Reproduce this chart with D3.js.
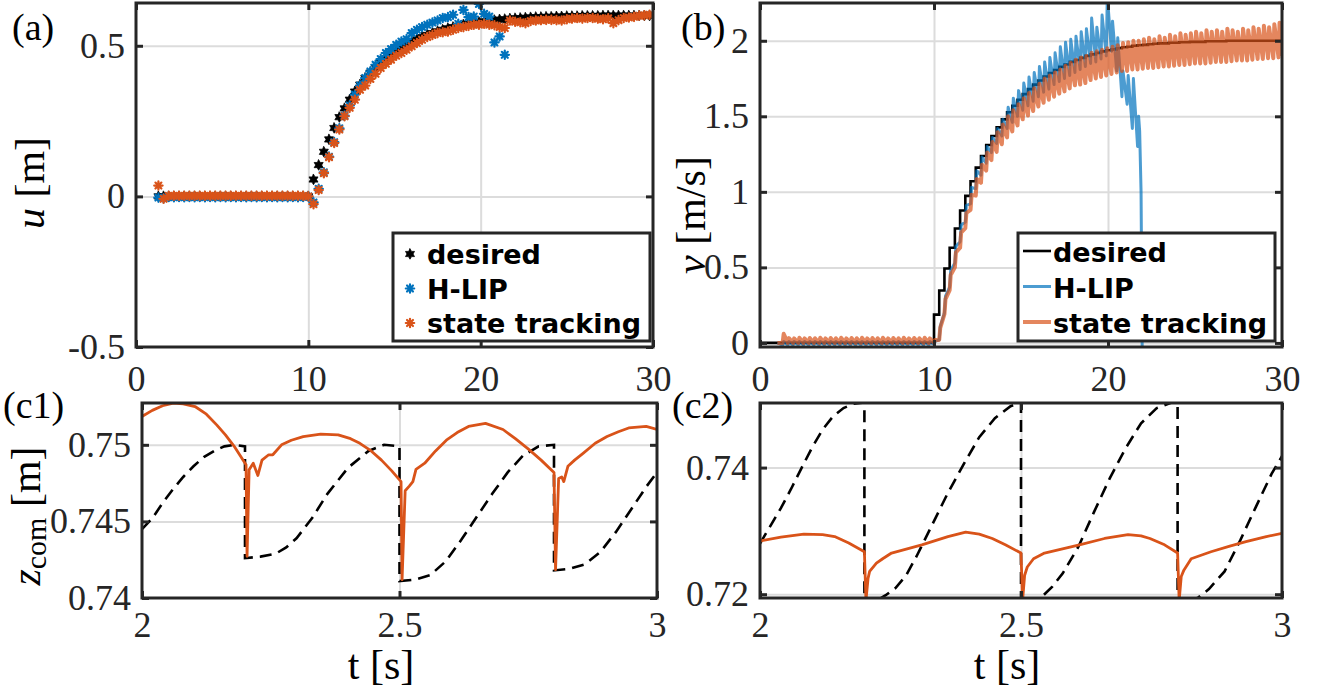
<!DOCTYPE html>
<html><head><meta charset="utf-8">
<script src="https://cdn.jsdelivr.net/npm/d3@7"></script>
<style>
body{margin:0;background:#fff;}
svg{display:block;}
</style></head><body>
<svg id="fig" width="1344" height="690"></svg>
<script>
// ---------------- DATA ----------------
// step (touch-down) times: every 0.3 s starting at 1.3 s
const stepStart = 1.3, stepDt = 0.3;

// (a) step length u [m] at each step
const uDesired = [
0,0,0,0,0,0,0,0,0,0, 0,0,0,0,0,0,0,0,0,0, 0,0,0,0,0,0,0,0,0,0,
0.056,0.104,0.148,0.189,0.227,0.263,0.292,0.321,0.348,0.371,
0.393,0.411,0.428,0.444,0.458,0.471,0.483,0.494,0.504,0.513,
0.521,0.529,0.536,0.542,0.548,0.553,0.558,0.562,0.566,0.570,
0.573,0.576,0.579,0.581,0.583,0.585,0.587,0.588,0.590,0.591,
0.592,0.593,0.594,0.595,0.595,0.596,0.596,0.597,0.597,0.598,
0.598,0.598,0.599,0.599,0.599,0.599,0.600,0.600,0.600,0.600,
0.600,0.600,0.600,0.600,0.600,0.600];
const uHLIP = [
-0.004,-0.006,-0.002,-0.003,-0.002,-0.003,-0.002,-0.003,-0.002,-0.003,
-0.002,-0.003,-0.002,-0.003,-0.002,-0.003,-0.002,-0.003,-0.002,-0.003,
-0.002,-0.003,-0.002,-0.003,-0.002,-0.003,-0.002,-0.003,-0.002,0.000,
-0.020,0.025,0.080,0.132,0.180,0.226,0.268,0.302,0.338,0.368,
0.393,0.415,0.437,0.456,0.476,0.489,0.503,0.514,0.522,0.542,
0.553,0.562,0.570,0.577,0.584,0.592,0.595,0.603,0.573,0.619,
0.595,0.597,0.639,0.606,0.597,0.511,0.531,0.470];
const uTrack = [
0.036,-0.008,0.002,0.002,0.002,0.002,0.002,0.002,0.002,0.002,
0.002,0.002,0.002,0.002,0.002,0.002,0.002,0.002,0.002,0.002,
0.002,0.002,0.002,0.002,0.002,0.002,0.002,0.002,0.002,0.000,
-0.026,0.021,0.077,0.130,0.177,0.222,0.266,0.294,0.321,0.354,
0.368,0.390,0.407,0.426,0.440,0.454,0.467,0.476,0.487,0.498,
0.509,0.520,0.529,0.536,0.542,0.545,0.547,0.553,0.559,0.562,
0.566,0.570,0.570,0.573,0.570,0.568,0.562,0.559,0.584,0.580,
0.578,0.575,0.582,0.584,0.585,0.586,0.586,0.585,0.584,0.588,
0.590,0.592,0.590,0.592,0.592,0.590,0.588,0.591,0.575,0.585,
0.592,0.594,0.596,0.600,0.601,0.603];

// (b) desired velocity staircase, one level per step from t = 10.0 s
const vDesiredStart = 10.0;
const vDesired = [
0.187,0.347,0.493,0.630,0.757,0.877,0.973,1.070,1.160,1.237,
1.310,1.370,1.427,1.480,1.527,1.570,1.610,1.647,1.680,1.710,
1.737,1.763,1.787,1.807,1.827,1.843,1.860,1.873,1.887,1.900,
1.910,1.920,1.930,1.937,1.943,1.950,1.957,1.960,1.967,1.970,
1.973,1.977,1.980,1.983,1.983,1.987,1.987,1.990,1.990,1.993,
1.993,1.993,1.997,1.997,1.997,1.997,2.000,2.000,2.000,2.000,
2.000,2.000,2.000,2.000,2.000,2.000,2.000];
// (b) measured velocity: trough (lo) and peak (hi) in each step
const vStartT = 1.0;
const vTrackLo = [
0.000,0.000,0.000,0.000,0.000,0.000,0.000,0.000,0.000,0.000,
0.000,0.000,0.000,0.000,0.000,0.000,0.000,0.000,0.000,0.000,
0.000,0.000,0.000,0.000,0.000,0.000,0.000,0.000,0.000,0.000,
0.020,0.190,0.350,0.500,0.630,0.760,0.880,0.975,1.060,1.140,
1.210,1.265,1.315,1.360,1.400,1.440,1.480,1.505,1.535,1.565,
1.590,1.610,1.630,1.650,1.665,1.685,1.705,1.710,1.720,1.740,
1.750,1.760,1.770,1.780,1.790,1.800,1.800,1.810,1.810,1.815,
1.820,1.820,1.825,1.830,1.830,1.835,1.840,1.840,1.845,1.850,
1.850,1.850,1.855,1.860,1.860,1.860,1.865,1.870,1.870,1.870,
1.875,1.880,1.880,1.885,1.885,1.890];
const vTrackHi = [
0.060,0.032,0.030,0.034,0.030,0.033,0.031,0.034,0.030,0.033,
0.031,0.034,0.030,0.033,0.031,0.034,0.030,0.033,0.031,0.034,
0.030,0.033,0.031,0.034,0.030,0.033,0.031,0.034,0.030,0.020,
0.100,0.290,0.450,0.600,0.730,0.860,0.980,1.085,1.180,1.260,
1.330,1.395,1.445,1.500,1.540,1.580,1.620,1.655,1.685,1.715,
1.750,1.770,1.790,1.810,1.835,1.855,1.875,1.890,1.900,1.920,
1.930,1.940,1.950,1.960,1.970,1.985,1.990,2.000,2.000,2.010,
2.020,2.010,2.030,2.020,2.040,2.030,2.050,2.040,2.050,2.060,
2.050,2.070,2.060,2.070,2.060,2.080,2.070,2.060,2.080,2.070,
2.090,2.080,2.100,2.090,2.110,2.120];
const vTrackEnd = 1.90;
const vHLIPLo = [
-0.015,-0.015,-0.015,-0.015,-0.015,-0.015,-0.015,-0.015,-0.015,-0.015,
-0.015,-0.015,-0.015,-0.015,-0.015,-0.015,-0.015,-0.015,-0.015,-0.015,
-0.015,-0.015,-0.015,-0.015,-0.015,-0.015,-0.015,-0.015,-0.015,-0.010,
0.020,0.200,0.370,0.530,0.670,0.800,0.920,1.020,1.110,1.190,
1.260,1.320,1.370,1.420,1.460,1.500,1.540,1.570,1.600,1.630,
1.660,1.680,1.710,1.730,1.750,1.770,1.790,1.810,1.830,1.850,
1.860,1.880,1.900,1.930,1.800,1.630,1.580,1.420,1.300];
const vHLIPHi = [
0.010,0.010,0.010,0.010,0.010,0.010,0.010,0.010,0.010,0.010,
0.010,0.010,0.010,0.010,0.010,0.010,0.010,0.010,0.010,0.010,
0.010,0.010,0.010,0.010,0.010,0.010,0.010,0.010,0.010,0.010,
0.110,0.310,0.480,0.640,0.780,0.910,1.030,1.140,1.230,1.300,
1.360,1.420,1.480,1.560,1.620,1.670,1.720,1.760,1.790,1.830,
1.860,1.890,1.920,1.960,1.990,2.010,2.030,2.060,2.080,2.150,
2.090,2.170,2.300,2.130,2.020,1.800,1.770,1.750,1.500];
const vHLIPTailT = [21.82, 21.90, 22.00];
const vHLIPTailV = [1.40, 1.00, -0.60];

// (c1) CoM height [m]
const c1TrackT = [2.000,2.020,2.040,2.061,2.080,2.103,2.125,2.145,2.162,2.179,2.202,2.204,2.208,2.216,2.225,2.233,2.246,2.254,2.271,2.290,2.313,2.347,2.381,2.405,2.423,2.445,2.465,2.485,2.503,2.505,2.511,2.519,2.526,2.532,2.549,2.570,2.591,2.612,2.634,2.667,2.701,2.725,2.751,2.775,2.800,2.803,2.809,2.815,2.819,2.827,2.840,2.857,2.880,2.903,2.925,2.945,2.979,3.000];
const c1TrackZ = [0.75185,0.75225,0.75255,0.75272,0.75268,0.75250,0.75200,0.75130,0.75065,0.74990,0.74870,0.74272,0.74837,0.74880,0.74800,0.74900,0.74935,0.74935,0.75000,0.75030,0.75054,0.75070,0.75065,0.75040,0.75010,0.74960,0.74900,0.74830,0.74760,0.74120,0.74700,0.74730,0.74760,0.74840,0.74880,0.74960,0.75030,0.75080,0.75120,0.75140,0.75100,0.75040,0.74970,0.74900,0.74820,0.74185,0.74780,0.74790,0.74760,0.74860,0.74900,0.74946,0.75010,0.75054,0.75085,0.75110,0.75120,0.75100];
const c1DesT = [2.00,2.02,2.04,2.06,2.08,2.10,2.12,2.14,2.16,2.18,2.20,2.20,2.23,2.26,2.28,2.30,2.33,2.36,2.40,2.44,2.47,2.50,2.50,2.53,2.56,2.59,2.62,2.65,2.68,2.71,2.74,2.77,2.80,2.80,2.83,2.86,2.89,2.92,2.95,2.98,3.00];
const c1DesZ = [0.7445,0.7452,0.7462,0.7471,0.7479,0.7486,0.7492,0.7496,0.7499,0.7500,0.7499,0.7426,0.7427,0.7429,0.7433,0.7439,0.7452,0.7468,0.7485,0.7496,0.7500,0.7499,0.7411,0.7412,0.7415,0.7424,0.7438,0.7453,0.7468,0.7482,0.7493,0.7499,0.7500,0.7418,0.7419,0.7422,0.7430,0.7443,0.7458,0.7473,0.7482];
// (c2) CoM height [m]
const c2TrackT = [2.000,2.040,2.084,2.120,2.143,2.170,2.200,2.203,2.207,2.210,2.223,2.235,2.252,2.310,2.360,2.394,2.420,2.445,2.470,2.500,2.503,2.507,2.512,2.524,2.545,2.612,2.660,2.705,2.730,2.747,2.775,2.800,2.803,2.807,2.812,2.826,2.864,2.900,2.931,2.970,3.000];
const c2TrackZ = [0.7284,0.7290,0.7295,0.7294,0.7291,0.7281,0.7267,0.7190,0.7225,0.7236,0.7249,0.7256,0.7265,0.7278,0.7291,0.7298,0.7295,0.7288,0.7278,0.7265,0.7190,0.7230,0.7243,0.7256,0.7265,0.7278,0.7288,0.7294,0.7292,0.7288,0.7278,0.7265,0.7190,0.7228,0.7238,0.7256,0.7267,0.7276,0.7283,0.7291,0.7296];
const c2DesT = [2.00,2.02,2.04,2.06,2.08,2.10,2.12,2.14,2.16,2.18,2.20,2.20,2.22,2.24,2.26,2.28,2.30,2.33,2.36,2.39,2.42,2.45,2.48,2.50,2.50,2.52,2.54,2.56,2.58,2.61,2.64,2.67,2.70,2.73,2.76,2.79,2.80,2.80,2.82,2.84,2.86,2.89,2.92,2.95,2.98,3.00];
const c2DesZ = [0.7280,0.7308,0.7336,0.7367,0.7400,0.7432,0.7460,0.7481,0.7494,0.7501,0.7503,0.7185,0.7188,0.7198,0.7210,0.7230,0.7260,0.7310,0.7360,0.7405,0.7448,0.7478,0.7497,0.7503,0.7185,0.7187,0.7196,0.7212,0.7233,0.7275,0.7330,0.7383,0.7430,0.7470,0.7494,0.7503,0.7504,0.7185,0.7187,0.7195,0.7208,0.7236,0.7285,0.7338,0.7390,0.7418];

// tick values
const aXTicks = [0,10,20,30], aYTicks = [-0.5,0,0.5];
const bYTicks = [0,0.5,1,1.5,2];
const cXTicks = [2,2.5,3];
const c1YTicks = [0.74,0.745,0.75], c2YTicks = [0.72,0.74];
const legendNames = ['desired','H-LIP','state tracking'];

// ---------------- DRAWING ----------------
const svg = d3.select('#fig');
const INK = '#262626', GRID = '#dcdcdc';
const SERIF = '"Liberation Serif","Times New Roman",serif';
const C_BLUE = '#0072BD', C_ORANGE = '#D95319';
const defs = svg.append('defs');

function makeAxes(cfg){
  const x = d3.scaleLinear().domain(cfg.xDomain).range([cfg.left, cfg.right]);
  const y = d3.scaleLinear().domain(cfg.yDomain).range([cfg.bottom, cfg.top]);
  const W = cfg.right - cfg.left, H = cfg.bottom - cfg.top;
  const root = svg.append('g');
  const gx = root.append('g').attr('transform', `translate(0,${cfg.bottom})`)
    .call(d3.axisBottom(x).tickValues(cfg.xGrid).tickSize(-H).tickFormat(''));
  const gy = root.append('g').attr('transform', `translate(${cfg.left},0)`)
    .call(d3.axisLeft(y).tickValues(cfg.yGrid).tickSize(-W).tickFormat(''));
  [gx, gy].forEach(g => { g.select('.domain').remove(); g.selectAll('line').attr('stroke', GRID).attr('stroke-width', 2); });
  const clipId = 'clip-' + cfg.name;
  defs.append('clipPath').attr('id', clipId).append('rect')
    .attr('x', cfg.left).attr('y', cfg.top).attr('width', W).attr('height', H);
  const plot = root.append('g').attr('clip-path', `url(#${clipId})`);
  const frame = root.append('g');
  return {x, y, plot, frame, cfg};
}

function styleAxis(g){
  g.select('.domain').remove();
  g.selectAll('line').attr('stroke', INK).attr('stroke-width', 3);
  g.selectAll('text').attr('font-family', SERIF).attr('font-size', 36).attr('fill', INK);
}

function finishAxes(ax){
  const {x, y, cfg, frame} = ax;
  const fmt = d => String(d);
  styleAxis(frame.append('g').attr('transform', `translate(0,${cfg.bottom})`)
    .call(d3.axisBottom(x).tickValues(cfg.xTicks).tickSizeInner(-7).tickSizeOuter(0).tickPadding(cfg.xPad).tickFormat(fmt)));
  styleAxis(frame.append('g').attr('transform', `translate(0,${cfg.top})`)
    .call(d3.axisTop(x).tickValues(cfg.xTicks).tickSizeInner(-7).tickSizeOuter(0).tickFormat('')));
  styleAxis(frame.append('g').attr('transform', `translate(${cfg.left},0)`)
    .call(d3.axisLeft(y).tickValues(cfg.yTicks).tickSizeInner(-7).tickSizeOuter(0).tickPadding(11).tickFormat(fmt)));
  styleAxis(frame.append('g').attr('transform', `translate(${cfg.right},0)`)
    .call(d3.axisRight(y).tickValues(cfg.yTicks).tickSizeInner(-7).tickSizeOuter(0).tickFormat('')));
  frame.append('rect').attr('x', cfg.left).attr('y', cfg.top)
    .attr('width', cfg.right - cfg.left).attr('height', cfg.bottom - cfg.top)
    .attr('fill', 'none').attr('stroke', INK).attr('stroke-width', 3);
}

function panelLabel(txt, px, py){
  svg.append('text').attr('x', px).attr('y', py).attr('font-family', SERIF)
    .attr('font-size', 38).attr('fill', '#000').text(txt);
}
function yLabel(px, py, parts){
  const t = svg.append('text').attr('transform', `translate(${px},${py}) rotate(-90)`)
    .attr('text-anchor', 'middle').attr('font-family', SERIF).attr('font-size', 42).attr('fill', '#000');
  parts.forEach(p => {
    const s = t.append('tspan').text(p.t);
    if (p.it) s.attr('font-style', 'italic');
    if (p.size) s.attr('font-size', p.size);
    if (p.dy) s.attr('dy', p.dy);
  });
}
function xLabel(px, py, txt){
  svg.append('text').attr('x', px).attr('y', py).attr('text-anchor', 'middle')
    .attr('font-family', SERIF).attr('font-size', 42).attr('fill', '#000').text(txt);
}

// marker shapes
function hexagram(r){
  const pts = [];
  for (let i = 0; i < 12; i++){
    const a = Math.PI / 6 * i - Math.PI / 2;
    const rr = i % 2 ? r / Math.sqrt(3) : r;
    pts.push([rr * Math.cos(a), rr * Math.sin(a)]);
  }
  return 'M' + pts.map(p => p.join(',')).join('L') + 'Z';
}
function asterisk(r){
  let s = '';
  for (let i = 0; i < 4; i++){
    const a = Math.PI / 4 * i;
    s += `M${r*Math.cos(a)},${r*Math.sin(a)}L${-r*Math.cos(a)},${-r*Math.sin(a)}`;
  }
  return s;
}
const markerStyles = [
  {path: hexagram(5.2), fill: '#000', stroke: '#000', sw: 0.8},
  {path: asterisk(4.2), fill: 'none', stroke: C_BLUE, sw: 2.2},
  {path: asterisk(4.2), fill: 'none', stroke: C_ORANGE, sw: 2.2}
];

// ---------- (a) ----------
const A = makeAxes({name:'a', left:136, right:653, top:3, bottom:347,
  xDomain:[0,30], yDomain:[-0.5,0.642], xGrid:[10,20], yGrid:[0,0.5],
  xTicks:aXTicks, yTicks:aYTicks, xPad:18});
const uSeries = [uDesired, uHLIP, uTrack];
uSeries.forEach((vals, si) => {
  const tbl = vals.map((v, i) => ({t: stepStart + stepDt * i, v}));
  const ms = markerStyles[si];
  A.plot.append('g').selectAll('path').data(tbl).join('path')
    .attr('transform', d => `translate(${A.x(d.t)},${A.y(d.v)})`)
    .attr('d', ms.path).attr('fill', ms.fill).attr('stroke', ms.stroke)
    .attr('stroke-width', ms.sw).attr('stroke-linecap', 'round');
});
finishAxes(A);
// legend (a)
{
  const lg = svg.append('g');
  lg.append('rect').attr('x', 393).attr('y', 233).attr('width', 257).attr('height', 108)
    .attr('fill', '#fff').attr('stroke', INK).attr('stroke-width', 3);
  legendNames.forEach((n, i) => {
    const yy = 254 + i * 34.5;
    const ms = markerStyles[i];
    lg.append('path').attr('transform', `translate(410,${yy})`).attr('d', ms.path)
      .attr('fill', ms.fill).attr('stroke', ms.stroke).attr('stroke-width', ms.sw).attr('stroke-linecap','round');
    lg.append('text').attr('x', 427).attr('y', yy + 10).attr('font-family', '"DejaVu Sans",Verdana,sans-serif')
      .attr('font-weight', 'bold').attr('font-size', 27).attr('fill', '#000').text(n);
  });
}
panelLabel('(a)', 12, 40);
yLabel(44, 183, [{t:'u', it:true}, {t:' [m]'}]);

// ---------- (b) ----------
const B = makeAxes({name:'b', left:760, right:1282, top:3, bottom:347,
  xDomain:[0,30], yDomain:[-0.027,2.25], xGrid:[10,20], yGrid:[0,0.5,1,1.5,2],
  xTicks:aXTicks, yTicks:bYTicks, xPad:18});
const stepLine = d3.line().x(d => B.x(d.t)).y(d => B.y(d.v)).curve(d3.curveStepAfter);
const linLine = d3.line().x(d => B.x(d.t)).y(d => B.y(d.v));
const desTbl = [{t:0, v:0}].concat(vDesired.map((v, i) => ({t: vDesiredStart + stepDt * i, v})))
  .concat([{t:30, v: vDesired[vDesired.length - 1]}]);
B.plot.append('path').attr('d', stepLine(desTbl)).attr('fill', 'none').attr('stroke', '#000').attr('stroke-width', 2.6);
function sawTable(lo, hi){
  const tbl = [{t: vStartT, v: 0}];
  lo.forEach((l, i) => {
    const t = stepStart + stepDt * i;
    tbl.push({t, v: l}); tbl.push({t: t + 0.06, v: hi[i]});
  });
  return tbl;
}
const hlipTbl = sawTable(vHLIPLo, vHLIPHi).concat(vHLIPTailT.map((t, i) => ({t, v: vHLIPTailV[i]})));
B.plot.append('path').attr('d', linLine(hlipTbl)).attr('fill', 'none').attr('stroke', C_BLUE)
  .attr('stroke-opacity', 0.7).attr('stroke-width', 3).attr('stroke-linejoin', 'round');
const trackTbl = sawTable(vTrackLo, vTrackHi).concat([{t:30, v: vTrackEnd}]);
B.plot.append('path').attr('d', linLine(trackTbl)).attr('fill', 'none').attr('stroke', C_ORANGE)
  .attr('stroke-opacity', 0.7).attr('stroke-width', 4).attr('stroke-linejoin', 'round');
finishAxes(B);
{
  const lg = svg.append('g');
  lg.append('rect').attr('x', 1018).attr('y', 233).attr('width', 257).attr('height', 108)
    .attr('fill', '#fff').attr('stroke', INK).attr('stroke-width', 3);
  const ls = [{c:'#000', o:1, w:2.6}, {c:C_BLUE, o:0.7, w:3}, {c:C_ORANGE, o:0.7, w:4}];
  legendNames.forEach((n, i) => {
    const yy = 251 + i * 35.5;
    lg.append('line').attr('x1', 1023).attr('x2', 1051).attr('y1', yy).attr('y2', yy)
      .attr('stroke', ls[i].c).attr('stroke-opacity', ls[i].o).attr('stroke-width', ls[i].w);
    lg.append('text').attr('x', 1053).attr('y', yy + 11).attr('font-family', '"DejaVu Sans",Verdana,sans-serif')
      .attr('font-weight', 'bold').attr('font-size', 27).attr('fill', '#000').text(n);
  });
}
panelLabel('(b)', 681, 40);
yLabel(705, 215, [{t:'v', it:true}, {t:' [m/s]'}]);

// ---------- (c1) ----------
const C1 = makeAxes({name:'c1', left:142, right:657, top:403, bottom:598,
  xDomain:[2,3], yDomain:[0.74,0.75273], xGrid:[2.5], yGrid:[0.745,0.75],
  xTicks:cXTicks, yTicks:c1YTicks, xPad:13});
const c1Line = d3.line().x(d => C1.x(d.t)).y(d => C1.y(d.v));
C1.plot.append('path').attr('d', c1Line(c1DesT.map((t, i) => ({t, v: c1DesZ[i]}))))
  .attr('fill', 'none').attr('stroke', '#000').attr('stroke-width', 2.6).attr('stroke-dasharray', '12,7');
C1.plot.append('path').attr('d', c1Line(c1TrackT.map((t, i) => ({t, v: c1TrackZ[i]}))))
  .attr('fill', 'none').attr('stroke', C_ORANGE).attr('stroke-width', 2.8).attr('stroke-linejoin', 'round');
finishAxes(C1);
panelLabel('(c1)', 3, 418);
yLabel(40, 516, [{t:'z', it:true}, {t:'com', size:30, dy:6}, {t:' [m]', dy:-6}]);
xLabel(381, 679, 't [s]');

// ---------- (c2) ----------
const C2 = makeAxes({name:'c2', left:760, right:1282, top:403, bottom:598,
  xDomain:[2,3], yDomain:[0.7194,0.7502], xGrid:[2.5], yGrid:[0.72,0.74],
  xTicks:cXTicks, yTicks:c2YTicks, xPad:13});
const c2Line = d3.line().x(d => C2.x(d.t)).y(d => C2.y(d.v));
C2.plot.append('path').attr('d', c2Line(c2DesT.map((t, i) => ({t, v: c2DesZ[i]}))))
  .attr('fill', 'none').attr('stroke', '#000').attr('stroke-width', 2.6).attr('stroke-dasharray', '12,7');
C2.plot.append('path').attr('d', c2Line(c2TrackT.map((t, i) => ({t, v: c2TrackZ[i]}))))
  .attr('fill', 'none').attr('stroke', C_ORANGE).attr('stroke-width', 2.8).attr('stroke-linejoin', 'round');
finishAxes(C2);
panelLabel('(c2)', 672, 418);
xLabel(1007, 679, 't [s]');
</script>
</body></html>
